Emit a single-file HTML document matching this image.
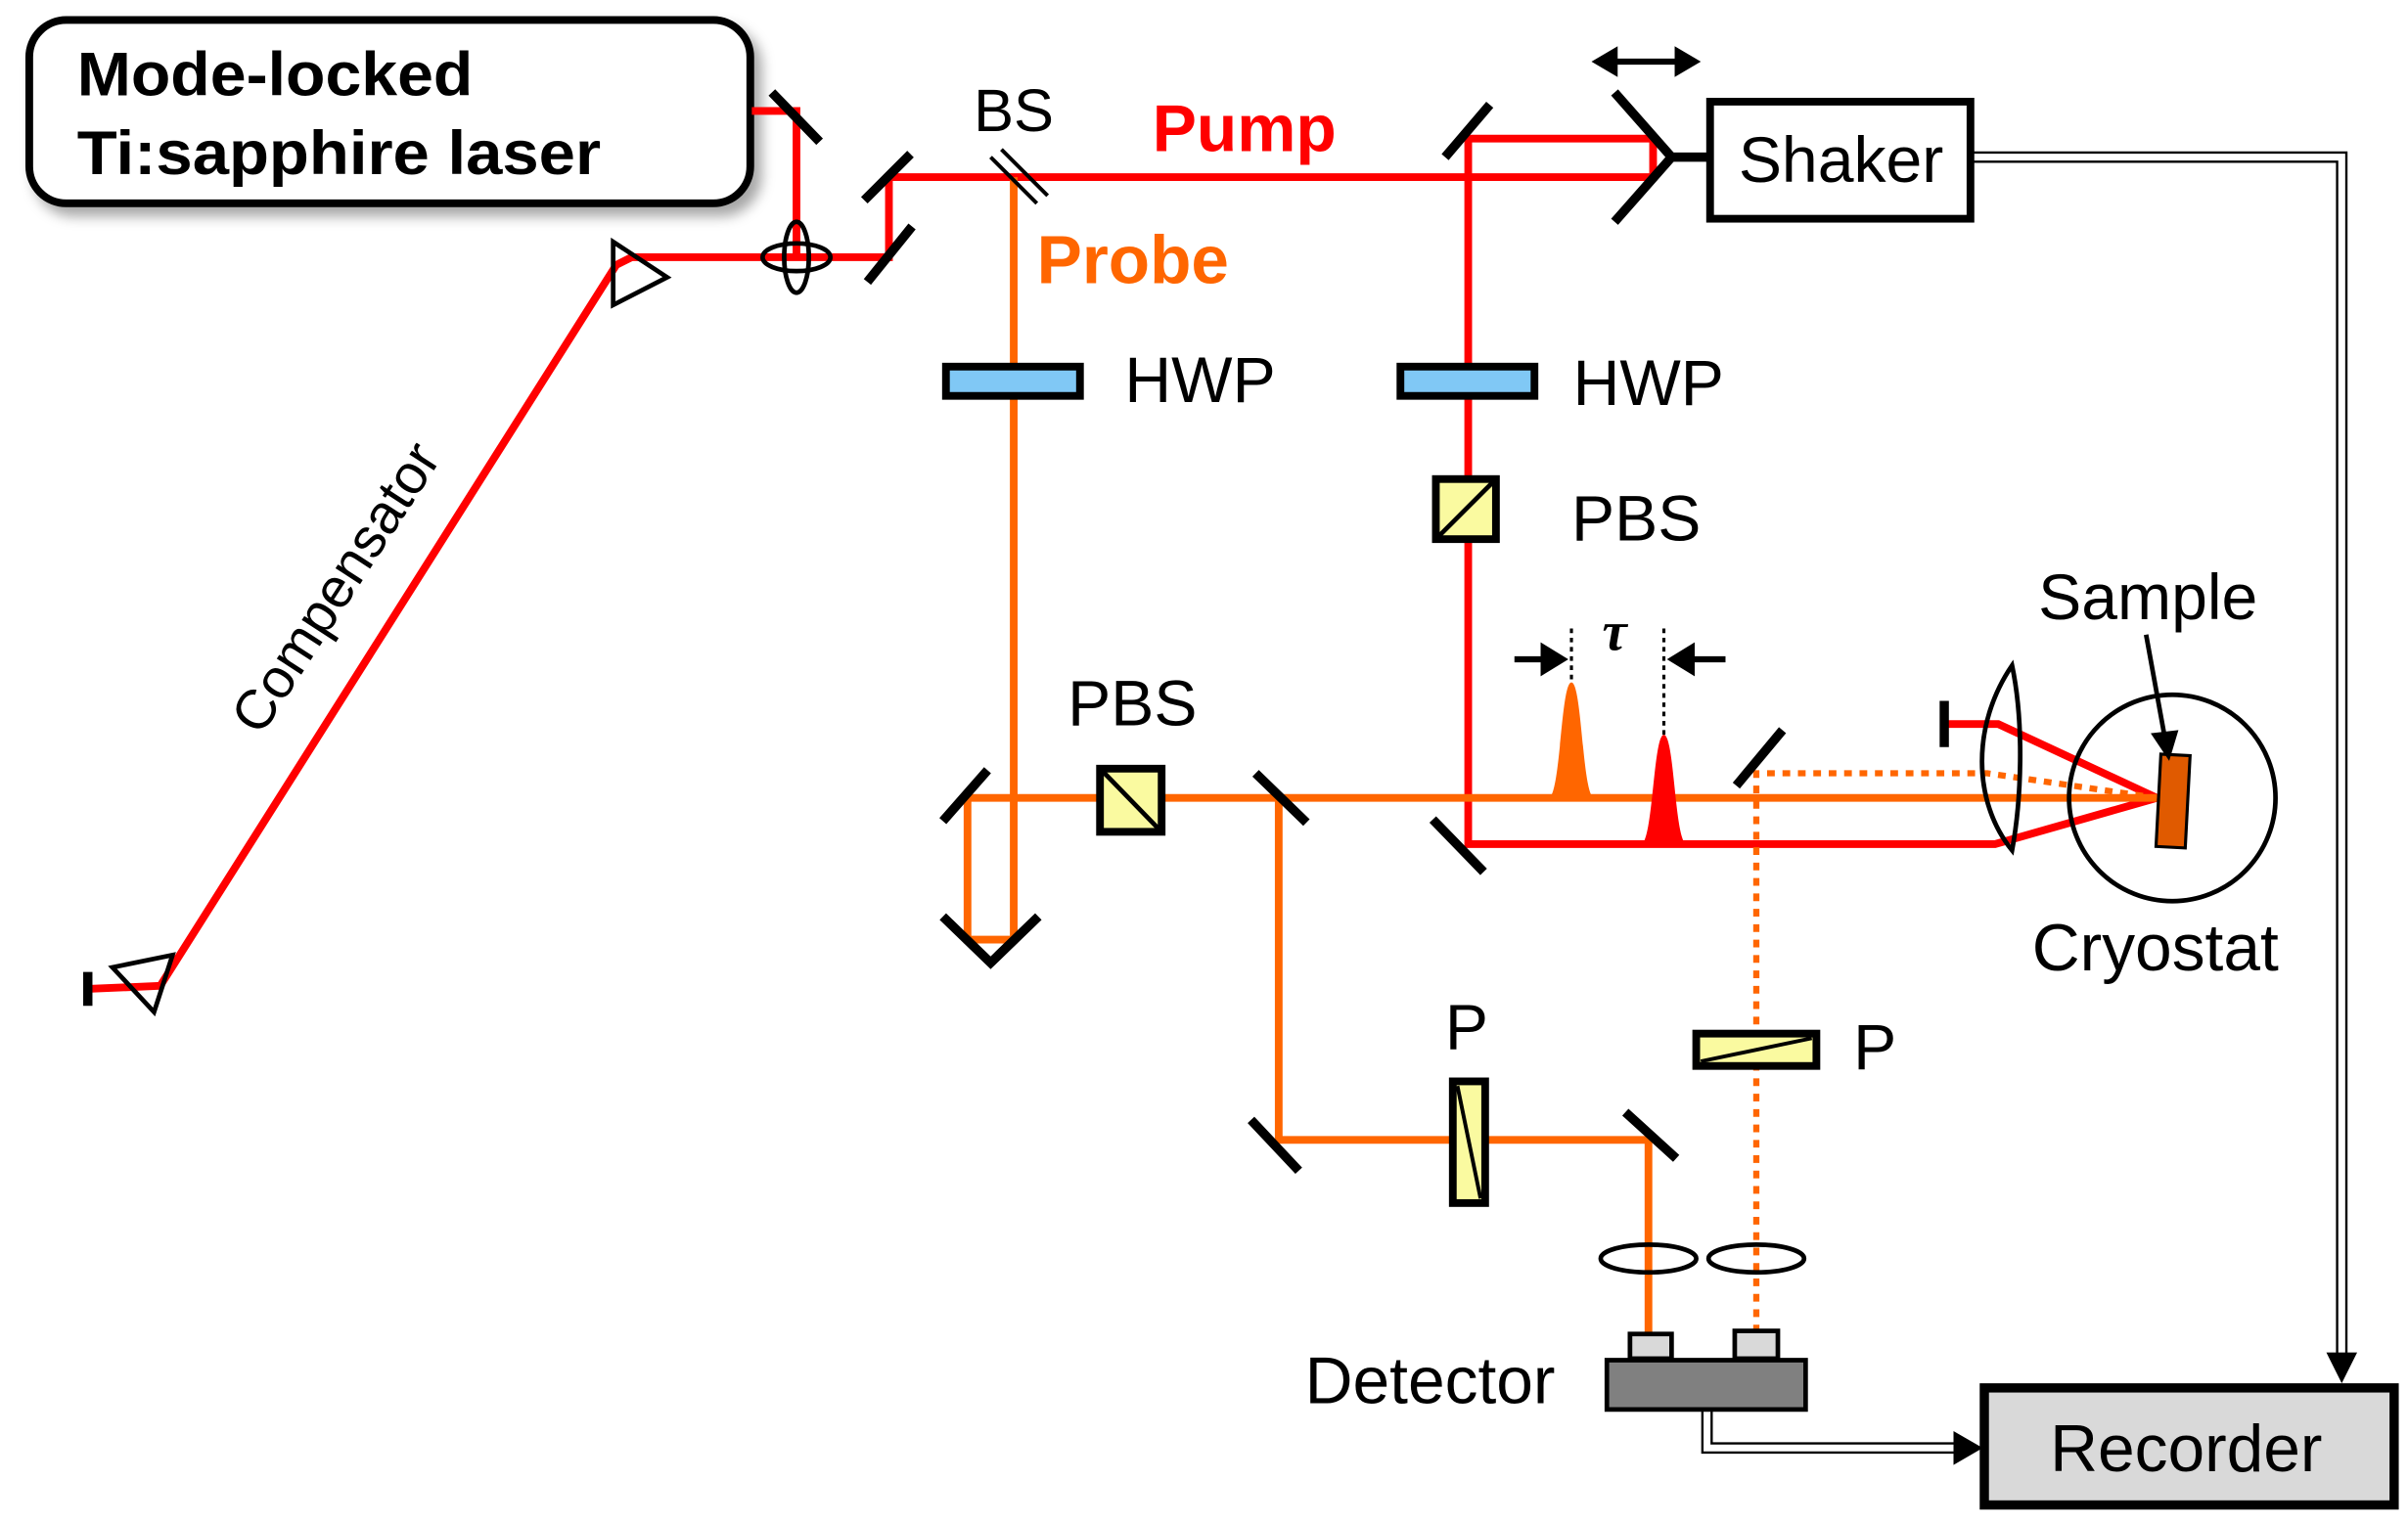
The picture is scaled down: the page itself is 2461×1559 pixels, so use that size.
<!DOCTYPE html>
<html><head><meta charset="utf-8"><style>html,body{margin:0;padding:0;background:#fff}svg{display:block}</style></head>
<body>
<svg width="2461" height="1559" viewBox="0 0 1563 990" preserveAspectRatio="none" xmlns="http://www.w3.org/2000/svg" font-family="Liberation Sans, sans-serif">
<defs>
<filter id="sh" x="-5%" y="-10%" width="115%" height="130%"><feDropShadow dx="5" dy="6" stdDeviation="4" flood-color="#000" flood-opacity="0.35"/></filter>
</defs>
<rect x="19" y="13" width="468" height="119" rx="24" fill="#fff" stroke="#000" stroke-width="5" filter="url(#sh)"/>
<text x="50" y="62" font-size="40" font-weight="bold" textLength="257" lengthAdjust="spacingAndGlyphs">Mode-locked</text>
<text x="50" y="113" font-size="40" font-weight="bold" textLength="340" lengthAdjust="spacingAndGlyphs">Ti:sapphire laser</text>

<g stroke="#ff0000" stroke-width="5" fill="none">
<polyline points="488,72 517,72 517,167"/>
<polyline points="57,642 104,640 400,172 410,167 577,167 577,115 1073,115 1073,90 953,90 953,548 1295,548 1400,518"/>
<polyline points="1262,470 1297,470 1400,518"/>
</g>
<g stroke="#ff6600" stroke-width="5" fill="none">
<polyline points="658,115 658,610 628,610 628,518 1400,518"/>
<polyline points="830,518 830,740 1070,740 1070,868"/>
</g>
<g stroke="#ff6600" stroke-width="4" fill="none" stroke-dasharray="5,5">
<polyline points="1140,865 1140,502 1290,502 1400,518"/>
</g>
<path d="M1005,518 C1013,518 1013,443 1020,443 C1027,443 1027,518 1035,518 Z" fill="#ff6600"/>
<path d="M1065,548 C1073,548 1073,477 1080,477 C1087,477 1087,548 1095,548 Z" fill="#ff0000"/>
<g stroke="#000" stroke-width="2" stroke-dasharray="3,3"><line x1="1020" y1="408" x2="1020" y2="443"/><line x1="1080" y1="408" x2="1080" y2="477"/></g>
<g stroke="#000" stroke-width="4"><line x1="983" y1="428" x2="1003" y2="428"/><line x1="1100" y1="428" x2="1120" y2="428"/></g>
<polygon points="1018,428 1000,417 1000,439" fill="#000"/>
<polygon points="1082,428 1100,417 1100,439" fill="#000"/>
<text x="1040" y="422" font-size="36" font-weight="bold" font-style="italic" font-family="Liberation Serif, serif">τ</text>

<g stroke="#000" stroke-width="6" stroke-linecap="butt">
<line x1="501" y1="60" x2="532" y2="92"/>
<line x1="561" y1="130" x2="591" y2="100"/>
<line x1="563" y1="183" x2="592" y2="147"/>
<line x1="938" y1="102" x2="967" y2="68"/>
<polyline points="1048,60 1085,102 1048,144" fill="none"/>
<line x1="1085" y1="102" x2="1108" y2="102"/>
<line x1="612" y1="533" x2="641" y2="500"/>
<polyline points="612,595 643,625 674,595" fill="none"/>
<line x1="815" y1="502" x2="848" y2="534"/>
<line x1="930" y1="532" x2="963" y2="566"/>
<line x1="1127" y1="510" x2="1157" y2="474"/>
<line x1="812" y1="727" x2="843" y2="760"/>
<line x1="1055" y1="722" x2="1088" y2="752"/>
<line x1="1262" y1="455" x2="1262" y2="485"/>
<line x1="57" y1="631" x2="57" y2="653"/>
</g>
<g stroke="#000" stroke-width="2.5"><line x1="643" y1="102" x2="673" y2="132"/><line x1="650" y1="97" x2="680" y2="127"/></g>
<text x="632" y="85" font-size="39">BS</text>
<text x="748" y="98" font-size="43" font-weight="bold" fill="#ff0000">Pump</text>
<text x="673" y="184" font-size="44" font-weight="bold" fill="#ff6600">Probe</text>
<g fill="none" stroke="#000" stroke-width="3"><ellipse cx="517" cy="167" rx="8" ry="23"/><ellipse cx="517" cy="167" rx="22" ry="9"/></g>
<polygon points="398,157 433,180 398,198" fill="none" stroke="#000" stroke-width="3"/>
<polygon points="73,628 112,620 100,657" fill="none" stroke="#000" stroke-width="3"/>
<text transform="translate(228,388) rotate(-57)" text-anchor="middle" font-size="36">Compensator</text>

<rect x="614" y="238" width="87" height="19" fill="#80c8f5" stroke="#000" stroke-width="5"/>
<text x="730" y="261" font-size="42">HWP</text>
<rect x="909" y="238" width="87" height="19" fill="#80c8f5" stroke="#000" stroke-width="5"/>
<text x="1021" y="263" font-size="42">HWP</text>
<rect x="932" y="311" width="39" height="39" fill="#fafaa0" stroke="#000" stroke-width="5"/>
<line x1="934" y1="348" x2="969" y2="313" stroke="#000" stroke-width="3"/>
<text x="1020" y="351" font-size="42">PBS</text>
<rect x="714" y="499" width="40" height="41" fill="#fafaa0" stroke="#000" stroke-width="5"/>
<line x1="716" y1="501" x2="752" y2="538" stroke="#000" stroke-width="3"/>
<text x="693" y="471" font-size="42">PBS</text>
<rect x="943" y="702" width="21" height="79" fill="#fafaa0" stroke="#000" stroke-width="5"/>
<line x1="946" y1="705" x2="961" y2="778" stroke="#000" stroke-width="2.5"/>
<text x="938" y="681" font-size="42">P</text>
<rect x="1101" y="671" width="78" height="21" fill="#fafaa0" stroke="#000" stroke-width="5"/>
<line x1="1104" y1="689" x2="1176" y2="674" stroke="#000" stroke-width="2.5"/>
<text x="1203" y="694" font-size="42">P</text>
<g fill="none" stroke="#000" stroke-width="3"><ellipse cx="1070" cy="817" rx="31" ry="9"/><ellipse cx="1140" cy="817" rx="31" ry="9"/></g>
<rect x="1058" y="866" width="27" height="16" fill="#d9d9d9" stroke="#000" stroke-width="3"/>
<rect x="1126" y="864" width="28" height="18" fill="#d9d9d9" stroke="#000" stroke-width="3"/>
<rect x="1043" y="883" width="129" height="32" fill="#808080" stroke="#000" stroke-width="3"/>
<text x="847" y="911" font-size="43">Detector</text>
<rect x="1288" y="901" width="266" height="76" fill="#d9d9d9" stroke="#000" stroke-width="6"/>
<text x="1419" y="955" font-size="43" text-anchor="middle">Recorder</text>
<rect x="1110" y="66" width="169" height="76" fill="#fff" stroke="#000" stroke-width="5"/>
<text x="1195" y="118" font-size="42" text-anchor="middle">Shaker</text>
<line x1="1048" y1="40" x2="1090" y2="40" stroke="#000" stroke-width="4"/>
<polygon points="1033,40 1050,30 1050,50" fill="#000"/>
<polygon points="1104,40 1087,30 1087,50" fill="#000"/>
<g fill="none" stroke="#000" stroke-width="1.5">
<polyline points="1280,99 1523,99 1523,880"/>
<polyline points="1280,105 1517,105 1517,880"/>
<polyline points="1105,915 1105,943 1270,943"/>
<polyline points="1111,915 1111,937 1270,937"/>
</g>
<polygon points="1510,878 1530,878 1520,898" fill="#000"/>
<polygon points="1268,929 1268,951 1287,940" fill="#000"/>
<path d="M1306,432 C1280,470 1280,520 1306,552 C1312,520 1314,470 1306,432 Z" fill="none" stroke="#000" stroke-width="3"/>
<circle cx="1410" cy="518" r="67" fill="none" stroke="#000" stroke-width="3"/>
<rect x="1401" y="490" width="19" height="60" fill="#e05a00" stroke="#000" stroke-width="2" transform="rotate(3 1410 520)"/>
<line x1="1393" y1="412" x2="1405" y2="478" stroke="#000" stroke-width="3"/>
<polygon points="1396,476 1414,474 1408,494" fill="#000"/>
<text x="1323" y="402" font-size="42">Sample</text>
<text x="1319" y="630" font-size="43">Cryostat</text>
</svg>
</body></html>
